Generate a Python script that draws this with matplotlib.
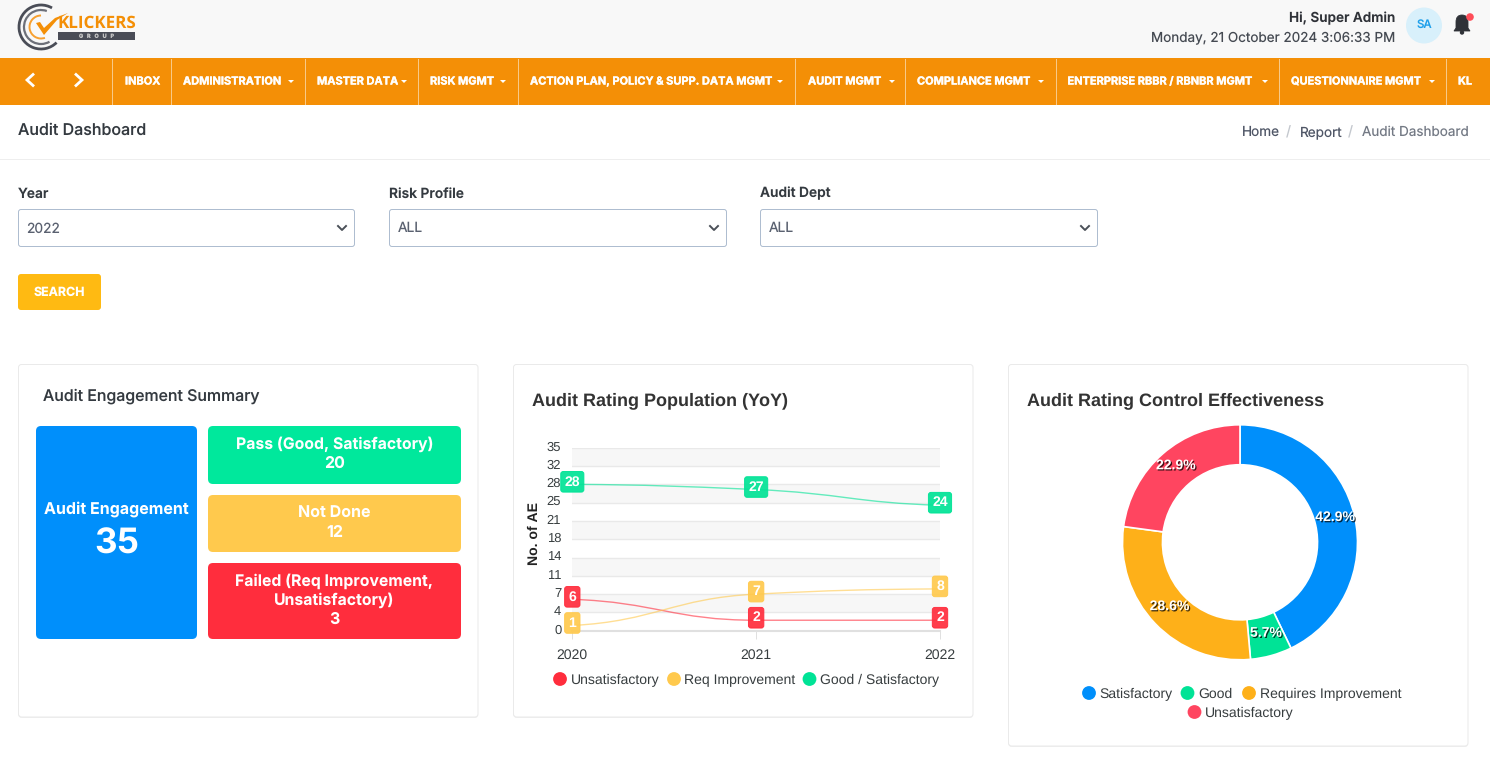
import matplotlib
matplotlib.use("Agg")
import matplotlib.pyplot as plt
import matplotlib.patheffects as pe
from matplotlib.patches import FancyBboxPatch, Rectangle, Circle, Arc, Polygon, PathPatch
from matplotlib.path import Path
from matplotlib.transforms import ScaledTranslation
import numpy as np

plt.rcParams['text.hinting'] = 'no_hinting'
plt.rcParams['text.hinting_factor'] = 1

W, H = 1490, 758
UI = ['Inter', 'Noto Sans', 'DejaVu Sans']
ARIAL = ['Liberation Sans', 'DejaVu Sans']

# ---- data ----
years = [2020, 2021, 2022]
series_names = ['Unsatisfactory', 'Req Improvement', 'Good / Satisfactory']
unsatisfactory = [6, 2, 2]
req_improvement = [1, 7, 8]
good_satisfactory = [28, 27, 24]
series_colors = ['#FF2D3D', '#FFC94D', '#00E396']
y_ticks = [0, 3.5, 7, 10.5, 14, 17.5, 21, 24.5, 28, 31.5, 35]
y_tick_labels = ['0', '4', '7', '11', '14', '18', '21', '25', '28', '32', '35']

donut_names = ['Satisfactory', 'Good', 'Requires Improvement', 'Unsatisfactory']
donut_values = [15, 2, 10, 8]
donut_colors = ['#008FFB', '#00E396', '#FEB019', '#FF4560']

nav_items = ['INBOX', 'ADMINISTRATION', 'MASTER DATA', 'RISK MGMT',
             'ACTION PLAN, POLICY & SUPP. DATA MGMT', 'AUDIT MGMT', 'COMPLIANCE MGMT',
             'ENTERPRISE RBBR / RBNBR MGMT', 'QUESTIONNAIRE MGMT', 'KL']
nav_x = [125, 183, 317, 430, 530, 808, 917, 1067.5, 1291, 1458]
nav_caret_x = [None, 291, 404, 503, 780, 892, 1041, 1265, 1432, None]
nav_sep_x = [112, 171, 305, 418, 518, 795, 905, 1056, 1279, 1446]

fig = plt.figure(figsize=(W / 100, H / 100), dpi=100, facecolor='white')
ui = fig.add_axes([0, 0, 1, 1], zorder=0)
ui.set_xlim(0, W)
ui.set_ylim(H, 0)
ui.axis('off')


def px(size):
    return size * 0.72


def T(x, y, s, size=14, color='#333333', weight='normal', ha='left', va='center', family=UI, ax=ui, **kw):
    return ax.text(x, y + 1, s, fontsize=px(size), color=color, fontweight=weight, ha=ha, va=va,
                   family=family, **kw)


def box(x0, y0, x1, y1, fc='white', ec='none', lw=0.72, r=4, z=1):
    p = FancyBboxPatch((x0, y0), x1 - x0, y1 - y0, boxstyle=f'round,pad=0,rounding_size={r}',
                       fc=fc, ec=ec, lw=lw, zorder=z, mutation_aspect=1)
    ui.add_patch(p)
    return p


# header
ui.add_patch(Rectangle((0, 0), W, 58, fc='#F8F8F8', ec='none', zorder=1))
ui.add_patch(Rectangle((0, 58), W, 47, fc='#F48F06', ec='none', zorder=1))
ui.plot([0, W], [159, 159], color='#EEEEEE', lw=0.72, zorder=1)

# logo
for r, c, lw, t1, t2 in [(22, '#4A4D57', 2.0, 60, 315), (17, '#6D7079', 1.6, 70, 300), (11.5, '#F7A030', 1.4, 90, 290)]:
    ui.add_patch(Arc((41, 27), 2 * r, 2 * r, theta1=360 - t2, theta2=360 - t1, color=c, lw=lw, zorder=2))
ui.add_patch(Polygon([(36, 23), (40, 22), (44, 28), (55, 18), (68, 13), (57, 20), (44, 35)],
                     fc='#F48F06', ec='none', zorder=3))
T(57, 22, 'KLICKERS', size=17, color='#F48F06', weight='bold', zorder=3, family=['Open Sans', 'DejaVu Sans'])
ui.add_patch(Rectangle((58, 32), 77, 8, fc='#4A4D57', ec='none', zorder=3))
T(96.5, 35, 'G   R   O   U   P', size=5.5, color='#C8C8C8', ha='center', weight='bold', zorder=4)

# user block
T(1395, 17.5, 'Hi, Super Admin', size=13.6, color='#2F3238', weight='semibold', ha='right', zorder=3)
T(1395, 37.5, 'Monday, 21 October 2024 3:06:33 PM', size=13.5, color='#454A52', ha='right', zorder=3)
ui.add_patch(Circle((1424, 25.5), 18, fc='#D8F0FB', ec='none', zorder=2))
T(1424, 23.5, 'SA', size=11.5, color='#1E9FEA', ha='center', weight='medium', zorder=3)
bell = Path([(1454, 31), (1456, 28), (1456, 22), (1456, 15), (1462, 15), (1468, 15), (1468, 22), (1468, 28),
             (1470, 31), (1454, 31)],
            [Path.MOVETO, Path.LINETO, Path.LINETO, Path.CURVE3, Path.CURVE3, Path.CURVE3, Path.CURVE3,
             Path.LINETO, Path.LINETO, Path.CLOSEPOLY])
ui.add_patch(PathPatch(bell, fc='#2F3238', ec='#2F3238', lw=0.6, zorder=2))
ui.add_patch(Circle((1462, 32.5), 2.2, fc='#2F3238', ec='none', zorder=2))
ui.add_patch(Circle((1470, 17), 3.8, fc='#FF4D58', ec='none', zorder=3))

# nav bar
for a, b in [(30, -1), (79, 1)]:
    ui.plot([a - 3 * b, a + 3 * b, a - 3 * b], [74.5, 80, 85.5], color='white', lw=2.0, zorder=3,
            solid_joinstyle='miter')
for x in nav_sep_x:
    ui.plot([x, x], [59, 104], color='#F8C987', lw=0.72, zorder=2)
for x, s in zip(nav_x, nav_items):
    t = T(x, 80.5, s, size=11, color='white', weight='bold', zorder=3)
    t.set_path_effects([pe.withStroke(linewidth=0.25, foreground='white')])
for x in nav_caret_x:
    if x is not None:
        ui.add_patch(Polygon([(x - 3, 80), (x + 3, 80), (x, 83)], fc='white', ec='none', zorder=3))

# page title and breadcrumb
T(18, 129.5, 'Audit Dashboard', size=16, color='#343A40', weight='medium', zorder=3)
T(1242, 131.5, 'Home', size=13.6, color='#4F5666', zorder=3)
T(1286, 131.5, '/', size=14, color='#C4C8CE', zorder=3)
T(1299.5, 131.5, 'Report', size=13.6, color='#4F5666', zorder=3)
T(1348, 131.5, '/', size=14, color='#C4C8CE', zorder=3)
T(1362.5, 131.5, 'Audit Dashboard', size=13.5, color='#747A85', zorder=3)

# filters
filters = [('Year', '2022', 18.5, 354.5), ('Risk Profile', 'ALL', 389.5, 726.5), ('Audit Dept', 'ALL', 760.5, 1097.5)]
for lab, val, x0, x1 in filters:
    T(x0 - 0.5, 192.7, lab, size=13.8, color='#343A40', weight='semibold', zorder=3)
    box(x0, 209.5, x1, 246.5, fc='white', ec='#AEBDD0', lw=0.72, r=2.5, z=2)
    T(x0 + 8, 227.7, val, size=13.8, color='#5A6170', zorder=3)
    cx = x1 - 12.5
    ui.plot([cx - 4, cx, cx + 4], [226, 230, 226], color='#4A5058', lw=1.4, zorder=3)
box(18, 274, 101, 310, fc='#FFBA12', r=3, z=2)
T(59, 291.5, 'SEARCH', size=12.4, color='white', weight='bold', ha='center', zorder=3)

# cards
for x0, y0, x1, y1 in [(18.5, 364.5, 478, 717), (513.5, 364.5, 973, 717), (1008.5, 364.5, 1468, 746)]:
    box(x0, y0 + 1, x1, y1 + 1, fc='#F0F0F0', r=3, z=1)
    box(x0, y0, x1, y1, fc='white', ec='#EAEAEA', lw=0.72, r=3, z=1.1)

# summary card
T(43, 395, 'Audit Engagement Summary', size=15.9, color='#343A40', weight='medium', zorder=3)
box(36, 426, 197, 639, fc='#008FFB', r=5, z=2)
T(116.5, 508, 'Audit Engagement', size=16, color='white', weight='bold', ha='center', zorder=3)
T(116.5, 543, '35', size=35, color='white', weight='bold', ha='center', zorder=3)
box(208, 426, 461, 484, fc='#00E89C', r=5, z=2)
T(334.5, 443, 'Pass (Good, Satisfactory)', size=15.8, color='white', weight='bold', ha='center', zorder=3)
T(334.5, 463, '20', size=16, color='white', weight='bold', ha='center', zorder=3)
box(208, 495, 461, 552, fc='#FFC94D', r=5, z=2)
T(334.5, 512.5, 'Not Done', size=16, color='white', weight='bold', ha='center', zorder=3)
T(334.5, 532, '12', size=16, color='white', weight='bold', ha='center', zorder=3)
box(208, 563, 461, 639, fc='#FF2D3D', r=5, z=2)
T(334.5, 580, 'Failed (Req Improvement,', size=15.8, color='white', weight='bold', ha='center', zorder=3)
T(334.5, 599, 'Unsatisfactory)', size=15.8, color='white', weight='bold', ha='center', zorder=3)
T(334.5, 619, '3', size=16, color='white', weight='bold', ha='center', zorder=3)

# line chart
T(532, 399.5, 'Audit Rating Population (YoY)', size=17.6, color='#333333', weight='bold', family=ARIAL, zorder=3)
T(534.5, 533, 'No. of AE', size=13.6, color='#222222', weight='bold', rotation=90, ha='center', family=ARIAL, zorder=3)

L, R, TOP, BOT = 572.3, 940, 447.7, 630.7
ax = fig.add_axes([L / W, 1 - BOT / H, (R - L) / W, (BOT - TOP) / H], zorder=2)
ax.patch.set_alpha(0)
ax.set_xlim(years[0], years[-1])
ax.set_ylim(y_ticks[0], y_ticks[-1])
for i in range(len(y_ticks) - 1):
    if (len(y_ticks) - 2 - i) % 2 == 0:
        ax.axhspan(y_ticks[i], y_ticks[i + 1], color='#F7F7F7', lw=0, zorder=0)
for s in ax.spines.values():
    s.set_visible(False)
ax.spines['bottom'].set_visible(True)
ax.spines['bottom'].set_color('#E0E0E0')
ax.spines['bottom'].set_linewidth(1.5)
ax.set_yticks(y_ticks, y_tick_labels, family=ARIAL, fontsize=px(12.5), color='#373D3F')
ax.set_xticks(years, [str(y) for y in years], family=ARIAL, fontsize=px(14), color='#373D3F')
ax.tick_params(axis='y', length=0, pad=px(11))
ax.tick_params(axis='x', length=6, color='#E0E0E0', width=0.72, pad=px(9.5))
ax.grid(axis='y', color='#E9E9E9', lw=1, zorder=1)
ax.set_axisbelow(True)
lift = ScaledTranslation(0, 2 / 100, fig.dpi_scale_trans)
for lab in ax.get_yticklabels():
    lab.set_transform(lab.get_transform() + lift)


def smooth(xs, ys):
    sec = [(ys[i + 1] - ys[i]) / (xs[i + 1] - xs[i]) for i in range(len(xs) - 1)]
    tan = [sec[0] * 0.3]
    for a, b in zip(sec[:-1], sec[1:]):
        tan.append(0.0 if a * b <= 0 else 2 * a * b / (a + b))
    tan.append(sec[-1] * 0.3)
    verts = [(xs[0], ys[0])]
    codes = [Path.MOVETO]
    for i in range(len(xs) - 1):
        h = (xs[i + 1] - xs[i]) * 0.45
        verts += [(xs[i] + h, ys[i] + h * tan[i]), (xs[i + 1] - h, ys[i + 1] - h * tan[i + 1]),
                  (xs[i + 1], ys[i + 1])]
        codes += [Path.CURVE4] * 3
    return Path(verts, codes)


for vals, col, nm in zip([unsatisfactory, req_improvement, good_satisfactory], series_colors, series_names):
    ax.add_patch(PathPatch(smooth(years, vals), fc='none', ec=col, lw=1.0, alpha=0.6, zorder=3, label=nm))
for vals, col in zip([unsatisfactory, req_improvement, good_satisfactory], series_colors):
    for x, v in zip(years, vals):
        ax.annotate(str(v), (x, v), xytext=(0, px(2.5)), textcoords='offset points', ha='center', va='center',
                    fontsize=px(14), fontweight='bold', color='white', family=ARIAL, annotation_clip=False, zorder=5,
                    bbox=dict(boxstyle='round,pad=0.27,rounding_size=0.18', fc=col, ec=col, lw=0.72, alpha=0.92))

# line chart legend
for cx, tx, nm, col in zip([560, 674, 809.5], [570.5, 684.5, 820], series_names, series_colors):
    ui.add_patch(Circle((cx, 679), 6.9, fc=col, ec='none', zorder=3))
    T(tx, 679, nm, size=13.6, color='#373D3F', family=ARIAL, zorder=3)

# donut
T(1027, 399.5, 'Audit Rating Control Effectiveness', size=17.7, color='#333333', weight='bold', family=ARIAL, zorder=3)
CX, CY, RO = 1240, 542.3, 117.5
dx = fig.add_axes([(CX - RO) / W, 1 - (CY + RO) / H, 2 * RO / W, 2 * RO / H], zorder=2)
wedges, _ = dx.pie(donut_values, colors=donut_colors, startangle=90, counterclock=False, radius=1,
                   wedgeprops=dict(width=0.34, edgecolor='white', linewidth=1.2))
dx.set_xlim(-1, 1)
dx.set_ylim(-1, 1)
total = sum(donut_values)
acc = 0
for v in donut_values:
    mid = (acc + v / 2) / total * 2 * np.pi
    acc += v
    t = dx.text(0.83 * np.sin(mid), 0.83 * np.cos(mid) + 0.027, f'{v / total * 100:.1f}%', ha='center', va='center',
                fontsize=px(14), fontweight='bold', color='white', family=ARIAL, clip_on=False, zorder=6)
    t.set_path_effects([pe.withSimplePatchShadow(offset=(0.9, -0.9), shadow_rgbFace='k', alpha=0.75)])

# donut legend
leg_pos = [(1089, 693, 1099.5), (1187.5, 693, 1198), (1249, 693, 1259.5), (1194.5, 712, 1205)]
for (cx, cy, tx), nm, col in zip(leg_pos, donut_names, donut_colors):
    ui.add_patch(Circle((cx, cy), 6.9, fc=col, ec='none', zorder=3))
    T(tx, cy, nm, size=13.5, color='#373D3F', family=ARIAL, zorder=3)

fig.savefig('out.png', dpi=100, facecolor='white')
